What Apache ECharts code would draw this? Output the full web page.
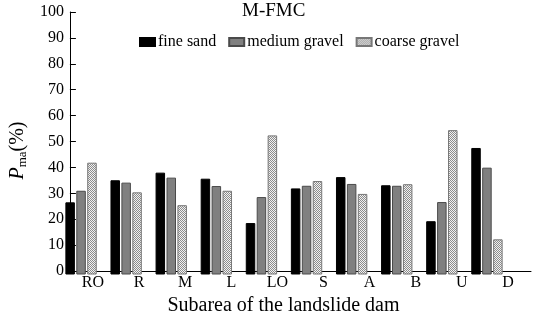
<!DOCTYPE html>
<html>
<head>
<meta charset="utf-8">
<script src="https://cdn.jsdelivr.net/npm/echarts@6/dist/echarts.min.js"></script>
<style>
  html, body { margin: 0; padding: 0; background: #fff; }
  #chart { width: 533px; height: 321px; }
</style>
</head>
<body>
<div id="chart"></div>
<script>
// 数据
const categories = ['RO', 'R', 'M', 'L', 'LO', 'S', 'A', 'B', 'U', 'D'];
const fineSand = [27.5, 35.9, 38.8, 36.5, 19.6, 32.8, 37.1, 34.0, 20.3, 48.2];
const mediumGravel = [31.9, 35.0, 36.9, 33.7, 29.5, 33.8, 34.5, 33.8, 27.6, 40.7];
const coarseGravel = [42.6, 31.3, 26.4, 31.9, 53.0, 35.6, 30.7, 34.4, 55.0, 13.4];
const yTicks = [0, 100, 10]; // min, max, interval

const font = 'Liberation Serif';

// 网点填充
const makePattern = () => {
  const c = document.createElement('canvas');
  c.width = 2;
  c.height = 2;
  const ctx = c.getContext('2d');
  ctx.fillStyle = '#f2f2f2';
  ctx.fillRect(0, 0, 2, 2);
  ctx.fillStyle = '#8c8c8c';
  ctx.fillRect(0, 0, 1, 1);
  ctx.fillRect(1, 1, 1, 1);
  return c;
};

const chart = echarts.init(document.getElementById('chart'));

const barBase = {
  type: 'bar',
  xAxisIndex: 1,
  yAxisIndex: 1,
  barWidth: 9.5,
  barGap: '15%'
};

chart.setOption({
  animation: false,
  textStyle: { fontFamily: font, color: '#000' },
  title: {
    text: 'M-FMC',
    left: 237,
    top: -3,
    textStyle: { fontFamily: font, fontSize: 19, fontWeight: 'normal', color: '#000' }
  },
  legend: {
    left: 134,
    top: 29,
    itemWidth: 15,
    itemHeight: 8,
    itemGap: 12,
    icon: 'rect',
    textStyle: { fontFamily: font, fontSize: 16, color: '#000', padding: [0, 0, 0, -2] },
    data: ['fine sand', 'medium gravel', 'coarse gravel']
  },
  grid: [
    { left: 59, right: 2, top: 12, bottom: 46.5 },
    { left: 58.5, right: 23.5, top: 12, bottom: 46.5 }
  ],
  xAxis: [
    {
      type: 'category',
      gridIndex: 0,
      data: categories,
      name: 'Subarea of the landslide dam',
      nameLocation: 'middle',
      nameGap: 17,
      nameTextStyle: { fontFamily: font, fontSize: 20, color: '#000', padding: [0, 34, 0, 0] },
      axisLine: { lineStyle: { color: '#000', width: 1 } },
      axisTick: { inside: true, length: 3, lineStyle: { color: '#000' } },
      axisLabel: { fontFamily: font, fontSize: 16, color: '#000', margin: 4 }
    },
    {
      type: 'category',
      gridIndex: 1,
      data: categories,
      show: false
    }
  ],
  yAxis: [
    {
      type: 'value',
      gridIndex: 0,
      min: yTicks[0],
      max: yTicks[1],
      interval: yTicks[2],
      name: '{p|P}{s|ma}{n|(%)}',
      nameLocation: 'middle',
      nameRotate: 90,
      nameGap: 22,
      nameTextStyle: {
        padding: [0, 18, 0, 0],
        rich: {
          p: { fontFamily: font, fontSize: 20, fontStyle: 'italic', color: '#000' },
          s: { fontFamily: font, fontSize: 13, color: '#000', verticalAlign: 'bottom', padding: [9, 0, 0, 0] },
          n: { fontFamily: font, fontSize: 20, color: '#000' }
        }
      },
      axisLine: { show: true, lineStyle: { color: '#000', width: 1 } },
      axisTick: { show: true, inside: true, length: 6, lineStyle: { color: '#000' } },
      axisLabel: { fontFamily: font, fontSize: 16, color: '#000', margin: 6 },
      splitLine: { show: false }
    },
    {
      type: 'value',
      gridIndex: 1,
      min: yTicks[0],
      max: yTicks[1],
      interval: yTicks[2],
      show: false,
      splitLine: { show: false }
    }
  ],
  series: [
    {
      ...barBase,
      name: 'fine sand',
      data: fineSand,
      itemStyle: { color: '#000', borderColor: '#000', borderWidth: 1 }
    },
    {
      ...barBase,
      name: 'medium gravel',
      data: mediumGravel,
      itemStyle: { color: '#808080', borderColor: '#4a4a4a', borderWidth: 1 }
    },
    {
      ...barBase,
      name: 'coarse gravel',
      data: coarseGravel,
      itemStyle: {
        color: { image: makePattern(), repeat: 'repeat' },
        borderColor: '#777',
        borderWidth: 1
      }
    }
  ]
});
</script>
</body>
</html>
